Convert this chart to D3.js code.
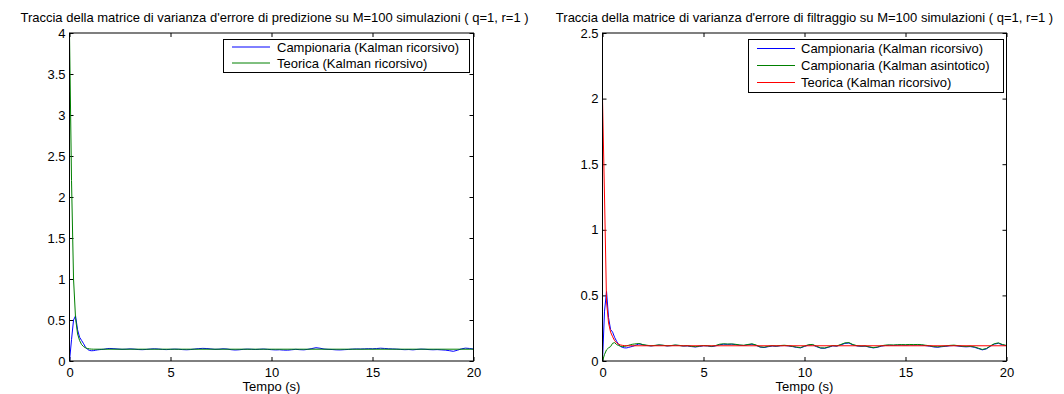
<!DOCTYPE html>
<html><head><meta charset="utf-8">
<script src="https://cdn.jsdelivr.net/npm/d3@7"></script>
<style>
body{margin:0;background:#fff}
svg{display:block}
text{font-family:"Liberation Sans",Arial,Helvetica,sans-serif;fill:#000}
</style>
</head><body>
<svg id="c" width="1064" height="394"></svg>
<script>
// ---- data ----
const tempo = [0,0.1,0.2,0.3,0.4,0.5,0.6,0.7,0.8,0.9,1.0,1.1,1.2,1.3,1.4,1.5,1.6,1.7,1.8,1.9,2.0,
  2.2,2.4,2.6,2.8,3.0,3.2,3.4,3.6,3.8,4.0,
  4.2,4.4,4.6,4.8,5.0,5.2,5.4,5.6,5.8,6.0,
  6.2,6.4,6.6,6.8,7.0,7.2,7.4,7.6,7.8,8.0,
  8.2,8.4,8.6,8.8,9.0,9.2,9.4,9.6,9.8,10.0,
  10.2,10.4,10.6,10.8,11.0,11.2,11.4,11.6,11.8,12.0,
  12.2,12.4,12.6,12.8,13.0,13.2,13.4,13.6,13.8,14.0,
  14.2,14.4,14.6,14.8,15.0,15.2,15.4,15.6,15.8,16.0,
  16.2,16.4,16.6,16.8,17.0,17.2,17.4,17.6,17.8,18.0,
  18.2,18.4,18.6,18.8,19.0,19.2,19.4,19.6,19.8,20.0];

const tempoTeorica = [0,0.1,0.2,0.3,0.4,0.5,0.6,0.7,0.8,0.9,1.0,1.1,1.2,20];
const predTeorica = [4.0,2.2,1.0,0.52,0.33,0.25,0.2,0.175,0.16,0.152,0.147,0.145,0.144,0.144];
const filtTeorica = [2.0,1.25,0.45,0.29,0.22,0.185,0.155,0.138,0.128,0.122,0.119,0.117,0.116,0.116];

const predCampionaria = [0,0.26,0.50,0.55,0.38,0.29,0.25,0.21,0.165,0.14,0.128,0.125,0.127,0.132,0.136,0.139,0.141,0.143,0.148,0.152,0.153,
  0.150,0.146,0.142,0.144,0.148,0.145,0.140,0.138,0.141,0.146,
  0.149,0.146,0.141,0.139,0.142,0.145,0.143,0.139,0.137,0.140,
  0.146,0.151,0.154,0.152,0.147,0.142,0.144,0.149,0.146,0.138,
  0.134,0.137,0.142,0.145,0.143,0.140,0.143,0.146,0.142,0.138,
  0.135,0.137,0.133,0.132,0.137,0.142,0.138,0.136,0.142,0.152,
  0.162,0.156,0.146,0.142,0.140,0.136,0.135,0.138,0.141,0.145,
  0.147,0.146,0.148,0.150,0.149,0.152,0.156,0.153,0.149,0.147,
  0.145,0.141,0.138,0.140,0.136,0.141,0.145,0.143,0.139,0.137,
  0.139,0.136,0.133,0.126,0.118,0.131,0.148,0.157,0.153,0.146];

const filtCampionaria = [0,0.38,0.53,0.33,0.24,0.22,0.18,0.15,0.125,0.11,0.103,0.1,0.1,0.104,0.108,0.112,0.118,0.124,0.13,0.128,0.122,
  0.118,0.115,0.118,0.121,0.119,0.115,0.117,0.120,0.118,0.114,
  0.115,0.110,0.107,0.111,0.116,0.115,0.110,0.115,0.124,0.128,
  0.127,0.128,0.125,0.120,0.118,0.124,0.128,0.119,0.106,0.103,
  0.109,0.114,0.112,0.116,0.118,0.115,0.110,0.104,0.100,0.111,
  0.121,0.123,0.109,0.098,0.097,0.105,0.115,0.113,0.123,0.134,
  0.137,0.122,0.115,0.112,0.113,0.106,0.100,0.104,0.113,0.118,
  0.120,0.119,0.121,0.122,0.121,0.123,0.122,0.123,0.121,0.117,
  0.113,0.107,0.105,0.109,0.112,0.116,0.118,0.114,0.110,0.108,
  0.110,0.105,0.095,0.085,0.092,0.112,0.129,0.135,0.123,0.116];

const filtAsintotico = [0,0.05,0.085,0.1,0.11,0.135,0.14,0.125,0.118,0.112,0.11,0.112,0.116,0.12,0.125,0.128,0.13,0.132,0.133,0.13,0.125,
  0.120,0.116,0.119,0.123,0.120,0.116,0.118,0.122,0.119,0.115,
  0.117,0.112,0.109,0.114,0.118,0.116,0.112,0.118,0.128,0.131,
  0.129,0.130,0.127,0.122,0.120,0.126,0.131,0.122,0.108,0.105,
  0.112,0.117,0.114,0.118,0.120,0.117,0.112,0.106,0.102,0.114,
  0.124,0.126,0.112,0.100,0.099,0.108,0.118,0.115,0.126,0.138,
  0.140,0.125,0.117,0.114,0.115,0.108,0.102,0.106,0.116,0.121,
  0.123,0.122,0.124,0.125,0.124,0.126,0.125,0.126,0.124,0.120,
  0.116,0.110,0.108,0.112,0.115,0.119,0.121,0.117,0.113,0.111,
  0.113,0.108,0.098,0.088,0.095,0.115,0.132,0.138,0.126,0.118];

const xTicks = [0,5,10,15,20];
const yTicksPred = [0,0.5,1,1.5,2,2.5,3,3.5,4];
const yTicksFilt = [0,0.5,1,1.5,2,2.5];
const titlePred = "Traccia della matrice di varianza d'errore di predizione su M=100 simulazioni ( q=1, r=1 )";
const titleFilt = "Traccia della matrice di varianza d'errore di filtraggio su M=100 simulazioni ( q=1, r=1 )";
const xLabel = "Tempo (s)";

// ---- drawing ----
const svg = d3.select("#c");
const FS = 13;

function panel(o) {
  const x = d3.scaleLinear().domain([0,20]).range([o.x0, o.x1]);
  const y = d3.scaleLinear().domain([0,o.ymax]).range([361, 33]);
  const g = svg.append("g");

  const fmt = d => String(d);
  const ax = [
    [d3.axisBottom(x).tickValues(xTicks).tickFormat(fmt).tickSize(-4).tickPadding(7), 0, 361],
    [d3.axisTop(x).tickValues(xTicks).tickFormat("").tickSize(-4), 0, 33],
    [d3.axisLeft(y).tickValues(o.yTicks).tickFormat(fmt).tickSize(-4).tickPadding(4), o.x0, 0],
    [d3.axisRight(y).tickValues(o.yTicks).tickFormat("").tickSize(-4), o.x1, 0]
  ];
  ax.forEach(([a, tx, ty]) => {
    const s = g.append("g").attr("transform", `translate(${tx},${ty})`).call(a);
    s.select(".domain").remove();
    s.selectAll("line").attr("stroke", "#000");
    s.selectAll("text").attr("font-size", FS).attr("fill", "#000")
      .attr("font-family", '"Liberation Sans",Arial,sans-serif');
  });

  const line = d3.line().x(d => x(d[0])).y(d => y(d[1]));
  o.series.forEach(s => {
    g.append("path").datum(s.t.map((t, i) => [t, s.v[i]]))
      .attr("d", line).attr("fill", "none").attr("stroke", s.color).attr("stroke-width", 1);
  });

  g.append("rect").attr("x", o.x0).attr("y", 33).attr("width", o.x1 - o.x0).attr("height", 328)
    .attr("fill", "none").attr("stroke", "#000").attr("stroke-width", 1);

  g.append("text").attr("x", (o.x0 + o.x1) / 2 + o.tdx).attr("y", 22).attr("text-anchor", "middle")
    .attr("font-size", FS).text(o.title);
  g.append("text").attr("x", (o.x0 + o.x1) / 2).attr("y", 391).attr("text-anchor", "middle")
    .attr("font-size", FS).text(xLabel);

  // legend
  const L = o.legend;
  g.append("rect").attr("x", L.x).attr("y", L.y).attr("width", L.w).attr("height", L.h)
    .attr("fill", "#fff").attr("stroke", "#000").attr("stroke-width", 1);
  L.items.forEach((it, i) => {
    const cy = L.rows[i];
    g.append("line").attr("x1", L.lx0).attr("x2", L.lx1).attr("y1", cy).attr("y2", cy)
      .attr("stroke", it.color).attr("stroke-width", 1);
    g.append("text").attr("x", L.tx).attr("y", cy).attr("dy", "0.35em")
      .attr("font-size", FS).text(it.label);
  });
}

panel({
  x0: 69.5, x1: 473.5, ymax: 4, yTicks: yTicksPred, title: titlePred, tdx: 3,
  series: [
    {t: tempo, v: predCampionaria, color: "#0000ff"},
    {t: tempoTeorica, v: predTeorica, color: "#008000"}
  ],
  legend: {x: 223.5, y: 39.5, w: 246, h: 33, lx0: 232, lx1: 270, tx: 277, rows: [47, 63],
    items: [{label: "Campionaria (Kalman ricorsivo)", color: "#0000ff"},
            {label: "Teorica (Kalman ricorsivo)", color: "#008000"}]}
});

panel({
  x0: 602.5, x1: 1006.5, ymax: 2.5, yTicks: yTicksFilt, title: titleFilt, tdx: 0,
  series: [
    {t: tempo, v: filtCampionaria, color: "#0000ff"},
    {t: tempo, v: filtAsintotico, color: "#008000"},
    {t: tempoTeorica, v: filtTeorica, color: "#ff0000"}
  ],
  legend: {x: 748.5, y: 39.5, w: 255, h: 53, lx0: 757, lx1: 795, tx: 801, rows: [48.5, 65.5, 82.5],
    items: [{label: "Campionaria (Kalman ricorsivo)", color: "#0000ff"},
            {label: "Campionaria (Kalman asintotico)", color: "#008000"},
            {label: "Teorica (Kalman ricorsivo)", color: "#ff0000"}]}
});
</script>
</body></html>
